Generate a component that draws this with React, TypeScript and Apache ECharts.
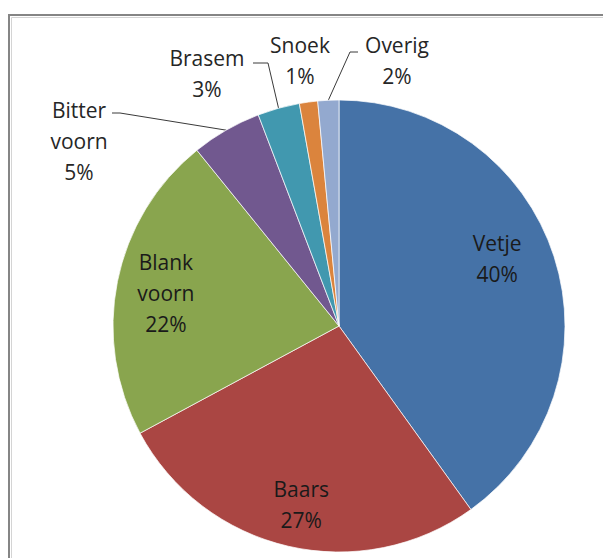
import React, { useEffect, useRef } from "react";
import * as echarts from "echarts";

const categories = ["Vetje", "Baars", "Blank voorn", "Bitter voorn", "Brasem", "Snoek", "Overig"];
const values = [40, 27, 22, 5, 3, 1.3, 1.5];
const colors = ["#4572A7", "#AA4643", "#89A54E", "#71588F", "#4198AF", "#DB843D", "#93A9CF"];
const insideNames = ["Vetje", "Baars", "Blank voorn"];

// layout helpers (label placement only)
const insideShift: Record<string, [number, number]> = {
  Vetje: [-6, -15],
  Baars: [1, 10],
  "Blank voorn": [-4, 1],
};
const outsideLabels: Record<string, { x: number; y: number; elbow?: number[]; end?: number[] }> = {
  "Bitter voorn": { x: 79, y: 141, elbow: [120, 113], end: [112, 113] },
  Brasem: { x: 207, y: 73, elbow: [268, 63], end: [253, 63] },
  Snoek: { x: 300, y: 60 },
  Overig: { x: 397, y: 60, elbow: [350, 52], end: [358, 52] },
};

const FONT = "'Open Sans', 'Noto Sans', sans-serif";

function fmt(p: any) {
  return String(p.name).replace(" ", "\n") + "\n" + Math.round(p.percent) + "%";
}

export default function App() {
  const ref = useRef<HTMLDivElement>(null);
  useEffect(() => {
    if (!ref.current) return;
    const chart = echarts.init(ref.current, undefined, { renderer: "svg" });
    const center = [339, 326];
    const R = 226;
    chart.setOption({
      animation: false,
      backgroundColor: "#ffffff",
      graphic: [
        {
          type: "rect",
          silent: true,
          shape: { x: 9, y: 15, width: 700, height: 700 },
          style: { fill: "none", stroke: "#858585", lineWidth: 2 },
        },
        {
          type: "rect",
          silent: true,
          shape: { x: 11.5, y: 17.5, width: 700, height: 700 },
          style: { fill: "none", stroke: "#d4d4d4", lineWidth: 1 },
        },
      ],
      series: [
        {
          type: "pie",
          center,
          radius: R,
          startAngle: 90,
          clockwise: true,
          avoidLabelOverlap: false,
          minShowLabelAngle: 0,
          silent: true,
          itemStyle: { borderColor: "rgba(255,255,255,0.7)", borderWidth: 1 },
          label: {
            show: true,
            position: "outside",
            formatter: fmt,
            fontFamily: FONT,
            fontSize: 21,
            lineHeight: 31,
            color: "#262626",
            align: "center",
          },
          labelLine: { show: true, lineStyle: { color: "#3a3a3a", width: 1 } },
          labelLayout: (params: any) => {
            const name = categories[params.dataIndex];
            const p = outsideLabels[name];
            if (!p) return {};
            const res: any = { x: p.x, y: p.y, align: "center", verticalAlign: "middle" };
            if (p.elbow && params.labelLinePoints) {
              res.labelLinePoints = [params.labelLinePoints[0], p.elbow, p.end];
            }
            return res;
          },
          data: categories.map((name, i) => ({
            name,
            value: values[i],
            itemStyle: { color: colors[i] },
            label: { show: !insideNames.includes(name) },
            labelLine: { show: !!(outsideLabels[name] && outsideLabels[name].elbow) },
          })),
        },
        {
          type: "pie",
          center,
          radius: [R * 0.5, R],
          startAngle: 90,
          clockwise: true,
          silent: true,
          avoidLabelOverlap: false,
          itemStyle: { color: "transparent", borderWidth: 0 },
          emphasis: { disabled: true },
          label: {
            show: true,
            position: "inside",
            formatter: fmt,
            fontFamily: FONT,
            fontSize: 21,
            lineHeight: 31,
            color: "#1a1a1a",
            align: "center",
          },
          labelLine: { show: false },
          labelLayout: (params: any) => {
            const name = categories[params.dataIndex];
            const s = insideShift[name];
            if (!s) return {};
            return { dx: s[0], dy: s[1] };
          },
          data: categories.map((name, i) => ({
            name,
            value: values[i],
            label: { show: insideNames.includes(name) },
          })),
        },
      ],
    });
    return () => chart.dispose();
  }, []);
  return (
    <div
      ref={ref}
      style={{ position: "fixed", left: 0, top: 0, width: 603, height: 558, background: "#fff" }}
    />
  );
}
